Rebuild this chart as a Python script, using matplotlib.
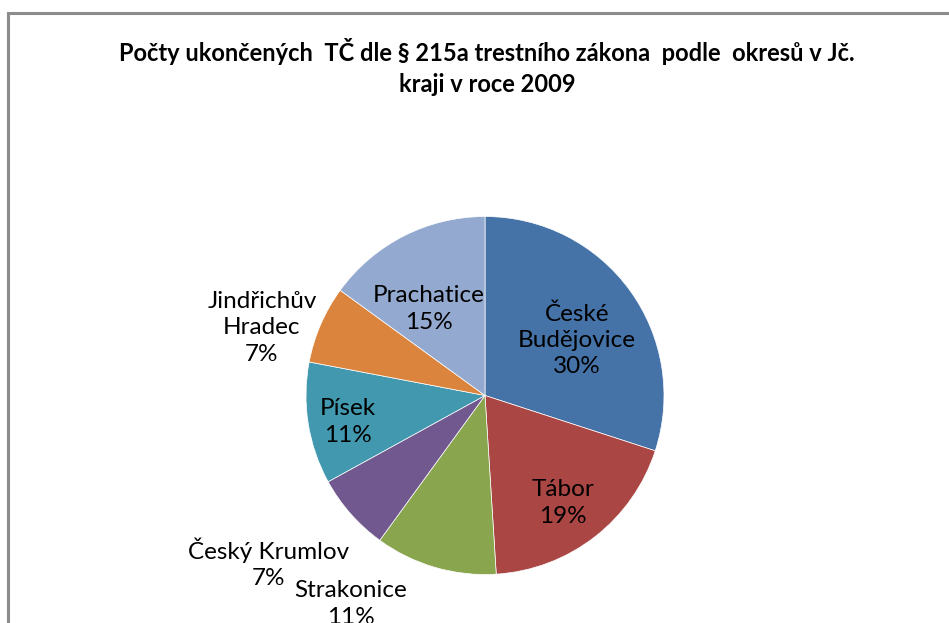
import matplotlib
matplotlib.use("Agg")
import matplotlib.pyplot as plt
from matplotlib.patches import Rectangle

title = "Počty ukončených  TČ dle § 215a trestního zákona  podle  okresů v Jč.\nkraji v roce 2009"
districts = ["České\nBudějovice", "Tábor", "Strakonice", "Český Krumlov",
             "Písek", "Jindřichův\nHradec", "Prachatice"]
shares = [30, 19, 11, 7, 11, 7, 15]
colors = ["#4572A7", "#AA4643", "#89A54E", "#71588F", "#4198AF", "#DB843D", "#93A9CF"]

W, H = 949, 623
fig = plt.figure(figsize=(W / 100, H / 100), dpi=100)
ax = fig.add_axes([0, 0, 1, 1])

# chart area border (cropped on right and bottom)
ax.add_patch(Rectangle((8.5, -50), 1200, H - 12.5 + 50, fill=False,
                       edgecolor="#8c8c8c", linewidth=2.2))

cx, cy, r = 485, H - 395.5, 179
wedges, _ = ax.pie(shares, colors=colors, startangle=90, counterclock=False,
                   center=(cx, cy), radius=r, frame=True,
                   wedgeprops=dict(edgecolor="white", linewidth=0.5))
ax.set_xlim(0, W)
ax.set_ylim(0, H)
ax.set_aspect("equal")
ax.axis("off")

font = ["Lato", "DejaVu Sans"]
# label anchor positions in pixel space (x, y from top)
label_pos = [(577, 340), (563, 503), (351, 604), (269, 563),
             (348, 422), (262, 328), (429, 309)]
for name, val, (lx, ly) in zip(districts, shares, label_pos):
    txt = f"{name}\n{val}%"
    ax.text(lx, H - ly, txt, ha="center", va="center", fontsize=17.5,
            family=font, linespacing=1.3, color="black")

fig.text(487 / W, 1 - 67 / H, title, ha="center", va="center", fontsize=17,
         fontweight="bold", family=font, linespacing=1.45)

fig.savefig("out.png", dpi=100)
